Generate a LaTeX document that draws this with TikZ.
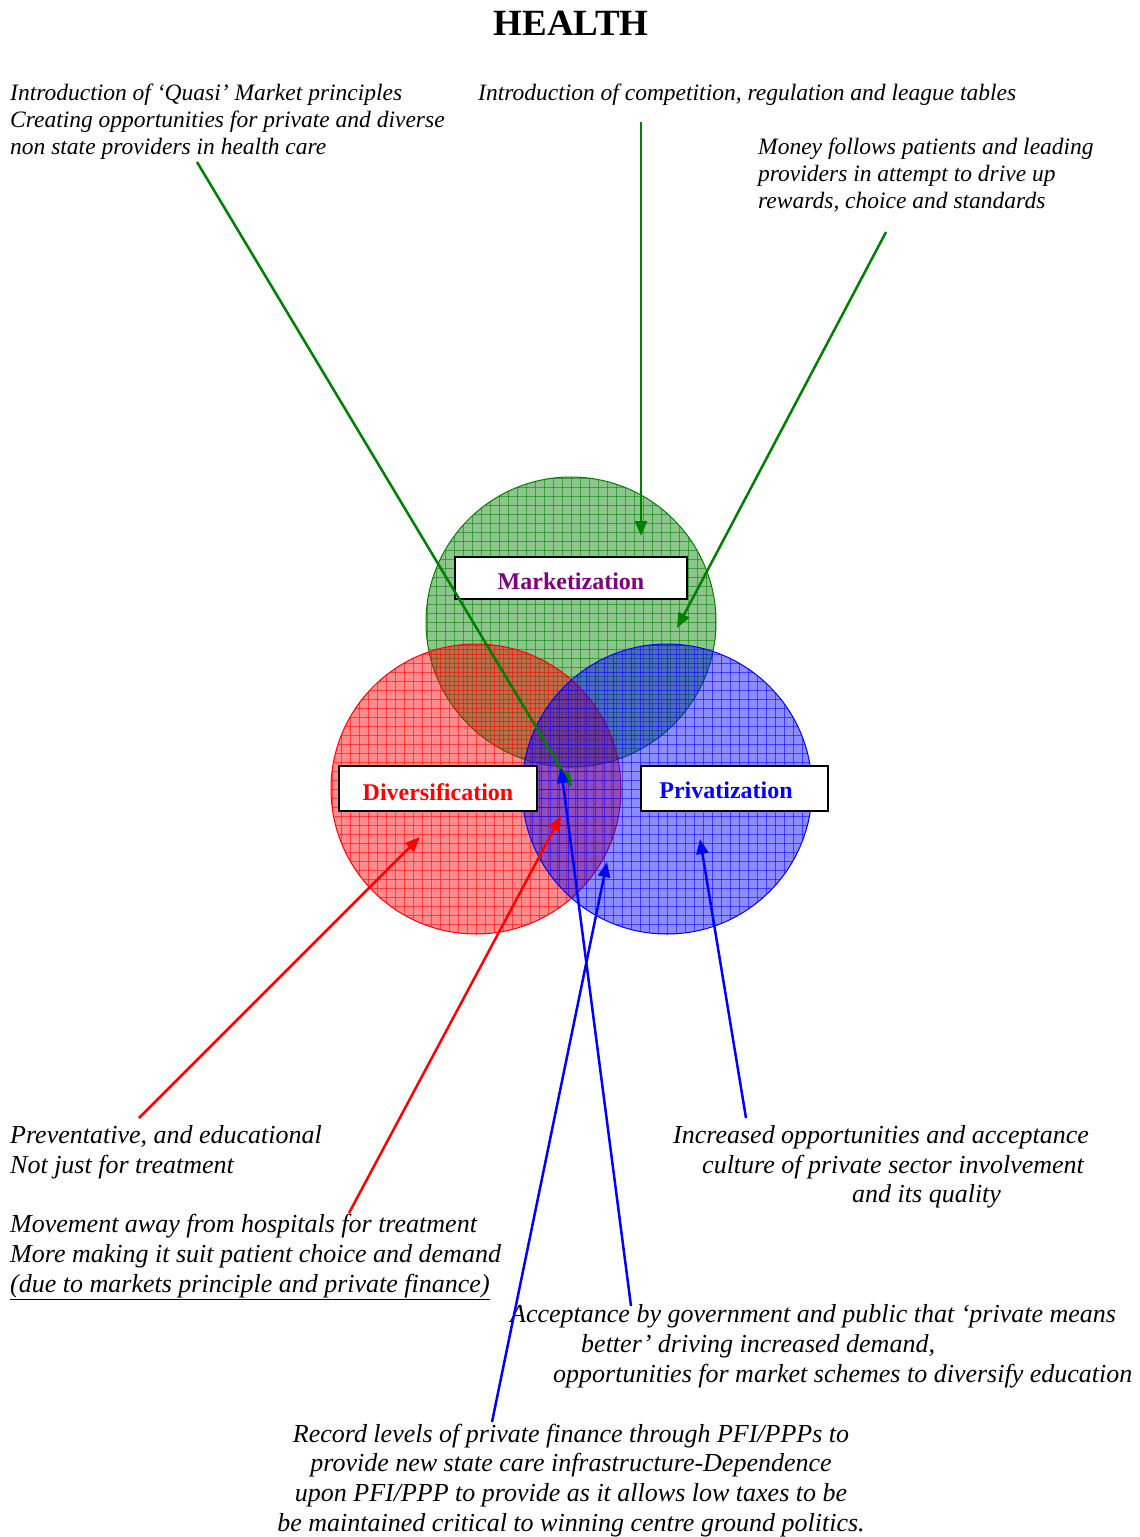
\documentclass[tikz,border=0pt]{standalone}
\usepackage{fontspec}
\setmainfont{Liberation Serif}
\usetikzlibrary{arrows.meta}
\definecolor{dgreen}{RGB}{0,128,0}
\definecolor{mpurple}{RGB}{128,0,128}
\tikzset{
  note/.style={inner sep=0pt, font=\fontsize{23.5}{27}\selectfont\itshape},
  bignote/.style={inner sep=0pt, font=\fontsize{26}{30}\selectfont\itshape},
  labbox/.style={draw=black, line width=2pt, fill=white, inner sep=0pt},
  labtext/.style={inner sep=0pt, font=\fontsize{24}{27}\selectfont\bfseries},
  arr/.style={line width=2.5pt, -{Triangle[length=15pt,width=12pt]}},
}
\newcommand{\gridcircle}[4]{% x, y, color, name
  \begin{scope}
    \clip (#1,#2) circle (145pt);
    \fill[#3, opacity=.45] (#1,#2) circle (145pt);
    \foreach \i in {-144,-135,...,144} {
      \draw[#3, opacity=.55, line width=.8pt] (#1+\i,#2-146) -- (#1+\i,#2+146);
      \draw[#3, opacity=.55, line width=.8pt] (#1-146,#2+\i) -- (#1+146,#2+\i);
    }
  \end{scope}
  \draw[#3, line width=1pt] (#1,#2) circle (145pt);
  \coordinate (#4) at (#1,#2);
}
\begin{document}
\begin{tikzpicture}[x=1pt,y=-1pt]
\useasboundingbox (0,0) rectangle (1140,1537);
\node[inner sep=0pt, font=\fontsize{37}{40}\selectfont\bfseries] (title) at (571,23) {HEALTH};

% circles
\gridcircle{571}{622}{dgreen}{cm}
\gridcircle{476}{789}{red}{cd}
\gridcircle{667}{789}{blue}{cp}

% labels
\node[labbox, minimum width=232pt, minimum height=42pt] (mkbox) at (571,578) {};
\node[labtext, text=mpurple] (mk) at (571,581) {Marketization};
\node[labbox, minimum width=198pt, minimum height=45pt] (dvbox) at (438,788) {};
\node[labtext, text=red] (dv) at (438,792) {Diversification};
\node[labbox, minimum width=187pt, minimum height=45pt] (pvbox) at (734,788) {};
\node[labtext, text=blue] (pv) at (726,790) {Privatization};

% top texts
\node[note, anchor=base west] (t1a) at (10,100) {Introduction of `Quasi' Market principles};
\node[note, anchor=base west] (t1b) at (10,127) {Creating opportunities for private and diverse};
\node[note, anchor=base west] (t1c) at (10,154) {non state providers in health care};
\node[note, anchor=base west] (t2) at (478,100) {Introduction of competition, regulation and league tables};
\node[note, anchor=base west] (t3a) at (758,154) {Money follows patients and leading};
\node[note, anchor=base west] (t3b) at (758,181) {providers in attempt to drive up};
\node[note, anchor=base west] (t3c) at (758,208) {rewards, choice and standards};

% bottom texts
\node[bignote, anchor=base west] (b1a) at (10,1143) {Preventative, and educational};
\node[bignote, anchor=base west] (b1b) at (10,1173) {Not just for treatment};
\node[bignote, anchor=base west] (b2a) at (10,1232) {Movement away from hospitals for treatment};
\node[bignote, anchor=base west] (b2b) at (10,1262) {More making it suit patient choice and demand};
\node[bignote, anchor=base west] (b2c) at (10,1292) {\underline{(due to markets principle and private finance)}};
\node[bignote, anchor=base west] (r1a) at (673,1143) {Increased opportunities and acceptance};
\node[bignote, anchor=base west] (r1b) at (702,1173) {culture of private sector involvement};
\node[bignote, anchor=base west] (r1c) at (852,1202) {and its quality};
\node[bignote, anchor=base west] (a1) at (510,1322) {Acceptance by government and public that `private means};
\node[bignote, anchor=base west] (a2) at (581,1352) {better' driving increased demand,};
\node[bignote, anchor=base west] (a3) at (553,1382) {opportunities for market schemes to diversify education};
\node[bignote, anchor=base] (p1) at (571,1442) {Record levels of private finance through PFI/PPPs to};
\node[bignote, anchor=base] (p2) at (571,1471) {provide new state care infrastructure-Dependence};
\node[bignote, anchor=base] (p3) at (571,1501) {upon PFI/PPP to provide as it allows low taxes to be};
\node[bignote, anchor=base] (p4) at (571,1531) {be maintained critical to winning centre ground politics.};

% arrow end points
\coordinate (g1s) at (197,162);  \coordinate (g1e) at (572,787);
\coordinate (g2s) at (641,122);  \coordinate (g2e) at (641,536);
\coordinate (g3s) at (886,232);  \coordinate (g3e) at (677,628);
\coordinate (r1s) at (139,1118); \coordinate (r1e) at (420,837);
\coordinate (r2s) at (349,1213); \coordinate (r2e) at (561,816);
\coordinate (u1s) at (631,1306); \coordinate (u1e) at (561,768);
\coordinate (u2s) at (492,1422); \coordinate (u2e) at (607,862);
\coordinate (u3s) at (746,1118); \coordinate (u3e) at (700,839);

\draw[arr, dgreen] (g1s) -- (g1e);
\draw[arr, dgreen] (g2s) -- (g2e);
\draw[arr, dgreen] (g3s) -- (g3e);
\draw[arr, red] (r1s) -- (r1e);
\draw[arr, red] (r2s) -- (r2e);
\draw[arr, blue] (u1s) -- (u1e);
\draw[arr, blue] (u2s) -- (u2e);
\draw[arr, blue] (u3s) -- (u3e);
\end{tikzpicture}
\end{document}
